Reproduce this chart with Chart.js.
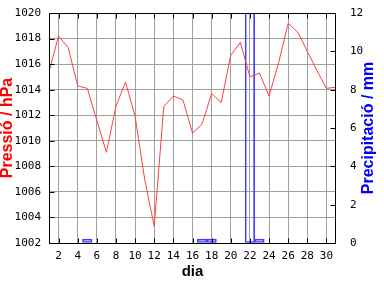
<!DOCTYPE html>
<html>
<head>
<meta charset="utf-8">
<script src="https://cdn.jsdelivr.net/npm/chart.js@4"></script>
<style>
  html, body { margin: 0; padding: 0; background: #fff; }
  #wrap { width: 384px; height: 288px; }
</style>
</head>
<body>
<div id="wrap"><canvas id="chart" width="384" height="288"></canvas></div>
<script>
const days = [1, 2, 3, 4, 5, 6, 7, 8, 9, 10, 11, 12, 13, 14, 15, 16, 17, 18, 19, 20, 21, 22, 23, 24, 25, 26, 27, 28, 29, 30, 31];
const pressure = [1015.4, 1018.2, 1017.3, 1014.3, 1014.1, 1011.6, 1009.1, 1012.7, 1014.6, 1011.9,
                  1007.0, 1003.3, 1012.7, 1013.5, 1013.2, 1010.6, 1011.3, 1013.7, 1013.0, 1016.7,
                  1017.7, 1015.0, 1015.3, 1013.5, 1016.1, 1019.2, 1018.5, 1017.0, 1015.5, 1014.1, 1014.2];
const precip = [0, 0, 0, 0, 0.2, 0, 0, 0, 0, 0,
                0, 0, 0, 0, 0, 0, 0.2, 0.2, 0, 0,
                0, 15.0, 0.2, 0, 0, 0, 0, 0, 0, 0, 0];
const xTicks = [2, 4, 6, 8, 10, 12, 14, 16, 18, 20, 22, 24, 26, 28, 30];

const xTitle = 'dia';
const leftTitle = 'Pressió / hPa';
const rightTitle = 'Precipitació / mm';

const tickFont = { family: '"DejaVu Sans Mono"', size: 11 };
const titleFamily = '"Liberation Sans", Arial, sans-serif';
const plain = v => String(v);

// fixed axis sizes, no extra label padding, so the plot area lands where the reference has it
const fixY = w => s => { s.width = w; s.paddingTop = 0; s.paddingBottom = 0; };
const fixX = h => s => { s.height = h; s.paddingLeft = 0; s.paddingRight = 0; };

// frame, inward tick marks and the right-hand title (reads bottom to top)
const frame = {
    id: 'frame',
    afterDraw(chart) {
        const { ctx, chartArea: a, scales } = chart;
        const L = Math.round(a.left) + 0.5, R = Math.round(a.right) - 0.5;
        const T = Math.round(a.top) + 0.5, B = Math.round(a.bottom) + 0.5;
        ctx.save();
        ctx.strokeStyle = '#000';
        ctx.lineWidth = 1;
        ctx.beginPath();
        ctx.rect(L, T, R - L, B - T);
        scales.x.ticks.forEach(t => {
            const px = Math.round(scales.x.getPixelForValue(t.value)) + 0.5;
            ctx.moveTo(px, T); ctx.lineTo(px, T + 5);
            ctx.moveTo(px, B); ctx.lineTo(px, B - 5);
        });
        scales.y.ticks.forEach(t => {
            const py = Math.round(scales.y.getPixelForValue(t.value)) + 0.5;
            ctx.moveTo(L, py); ctx.lineTo(L + 5, py);
        });
        scales.y1.ticks.forEach(t => {
            const py = Math.round(scales.y1.getPixelForValue(t.value)) + 0.5;
            ctx.moveTo(R, py); ctx.lineTo(R - 5, py);
        });
        ctx.stroke();

        ctx.translate(chart.width - 15, (a.top + a.bottom) / 2);
        ctx.rotate(-Math.PI / 2);
        ctx.font = 'bold 16px ' + titleFamily;
        ctx.fillStyle = '#0000ff';
        ctx.textAlign = 'center';
        ctx.textBaseline = 'middle';
        ctx.fillText(rightTitle, 0, 0);
        ctx.restore();
    }
};

const ctx = document.getElementById('chart').getContext('2d');
new Chart(ctx, {
    type: 'bar',
    data: {
        datasets: [
            {
                type: 'line',
                label: leftTitle,
                data: days.map((d, i) => ({ x: d, y: pressure[i] })),
                yAxisID: 'y',
                borderColor: '#ff4040',
                borderWidth: 1,
                pointRadius: 0,
                tension: 0,
                order: 1
            },
            {
                type: 'bar',
                label: rightTitle,
                data: days.map((d, i) => ({ x: d, y: precip[i] > 0 ? precip[i] : null })),
                yAxisID: 'y1',
                backgroundColor: 'rgba(0,0,0,0)',
                borderColor: '#4040ff',
                borderWidth: 1,
                borderSkipped: false,
                barPercentage: 1,
                categoryPercentage: 1,
                order: 2
            }
        ]
    },
    options: {
        responsive: false,
        animation: false,
        devicePixelRatio: 1,
        layout: { padding: { top: 13, left: 0, right: 0, bottom: 0 } },
        plugins: {
            legend: { display: false },
            tooltip: { enabled: false }
        },
        scales: {
            x: {
                type: 'linear',
                min: 1,
                max: 31,
                offset: false,
                afterFit: fixX(45),
                afterBuildTicks: s => { s.ticks = xTicks.map(v => ({ value: v })); },
                ticks: { color: '#000', font: tickFont, padding: 7, maxRotation: 0, autoSkip: false, callback: plain },
                grid: { color: '#a0a0a0', drawTicks: false, offset: false },
                border: { display: false },
                title: { display: true, text: xTitle, color: '#000', font: { family: titleFamily, weight: 'bold', size: 15, lineHeight: 1 }, padding: { top: 0, bottom: 9 } }
            },
            y: {
                position: 'left',
                min: 1002,
                max: 1020,
                afterFit: fixY(49),
                ticks: { stepSize: 2, color: '#000', font: tickFont, padding: 8, callback: plain },
                grid: { color: '#a0a0a0', drawTicks: false },
                border: { display: false },
                title: { display: true, text: leftTitle, color: '#ff0000', font: { family: titleFamily, weight: 'bold', size: 16, lineHeight: 1 }, padding: { top: 0, bottom: 0 } }
            },
            y1: {
                position: 'right',
                min: 0,
                max: 12,
                afterFit: fixY(48),
                ticks: { stepSize: 2, color: '#000', font: tickFont, padding: 14, callback: plain },
                grid: { drawOnChartArea: false, drawTicks: false },
                border: { display: false }
            }
        }
    },
    plugins: [frame]
});
</script>
</body>
</html>
